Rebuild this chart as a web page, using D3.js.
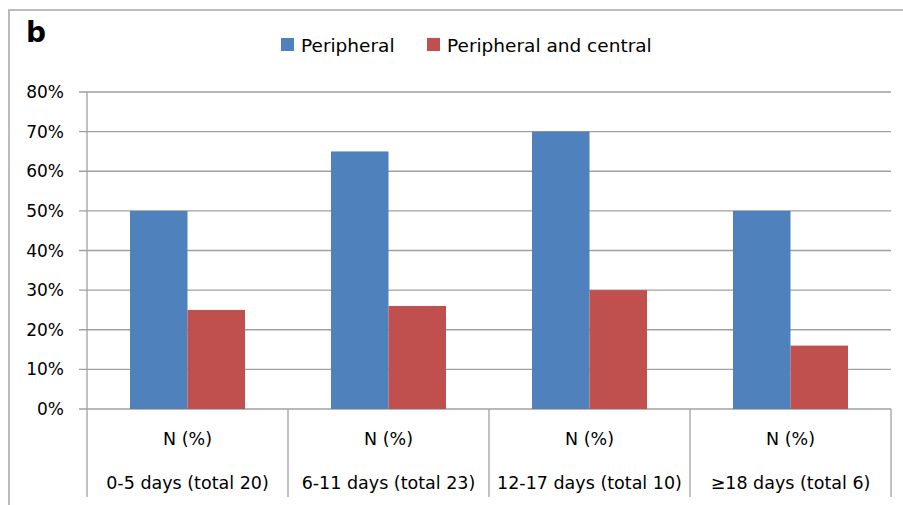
<!DOCTYPE html>
<html>
<head>
<meta charset="utf-8">
<script src="https://cdn.jsdelivr.net/npm/d3@7"></script>
<style>
  body { margin: 0; background: #fff; }
  text { font-family: "DejaVu Sans", sans-serif; fill: #000; }
</style>
</head>
<body>
<svg width="903" height="505"></svg>
<script>
var categories = ["0-5 days (total 20)", "6-11 days (total 23)", "12-17 days (total 10)", "\u226518 days (total 6)"];
var subLabel = "N (%)";
var seriesNames = ["Peripheral", "Peripheral and central"];
var peripheral = [50, 65, 70, 50];
var peripheralCentral = [25, 26, 30, 16];
var yTicks = [0, 10, 20, 30, 40, 50, 60, 70, 80];
var colors = ["#4f81bd", "#c0504d"];

var svg = d3.select("svg");
var plotLeft = 87, plotRight = 891, plotTop = 92, plotBottom = 409, tableBottom = 497;

// outer frame
svg.append("path")
  .attr("d", "M9,505V10H903")
  .attr("fill", "none").attr("stroke", "#a6a6a6").attr("stroke-width", 1.5);

svg.append("text").attr("x", 26).attr("y", 42)
  .style("font-weight", "bold").style("font-size", "28px").text("b");

var x = d3.scaleBand().domain(categories).range([plotLeft, plotRight]);
var xs = d3.scaleBand().domain(seriesNames).range([0, x.bandwidth()])
  .paddingInner(0).paddingOuter(0.748);
var y = d3.scaleLinear().domain([0, 80]).range([plotBottom, plotTop]);

// grid lines + ticks
svg.append("g").selectAll("line").data(yTicks).enter().append("line")
  .attr("x1", plotLeft - 8).attr("x2", plotRight)
  .attr("y1", function(d) { return y(d); }).attr("y2", function(d) { return y(d); })
  .attr("stroke", "#a0a0a0").attr("stroke-width", 1.3);

svg.append("g").selectAll("text").data(yTicks).enter().append("text")
  .attr("x", 64).attr("y", function(d) { return y(d); })
  .attr("dy", "0.36em").attr("text-anchor", "end")
  .style("font-size", "17px")
  .text(function(d) { return d + "%"; });

// bars
var table = categories.map(function(c, i) {
  return { cat: c, values: [peripheral[i], peripheralCentral[i]] };
});
var groups = svg.append("g").selectAll("g").data(table).enter().append("g")
  .attr("transform", function(d) { return "translate(" + x(d.cat) + ",0)"; });
groups.selectAll("rect").data(function(d) {
    return d.values.map(function(v, j) { return { s: seriesNames[j], v: v, j: j }; });
  }).enter().append("rect")
  .attr("x", function(d) { return xs(d.s); })
  .attr("width", xs.bandwidth())
  .attr("y", function(d) { return y(d.v); })
  .attr("height", function(d) { return plotBottom - y(d.v); })
  .attr("fill", function(d) { return colors[d.j]; });

// category table lines
var edges = categories.map(function(c) { return x(c); }).concat([plotRight]);
svg.append("g").selectAll("line").data(edges).enter().append("line")
  .attr("x1", function(d) { return d; }).attr("x2", function(d) { return d; })
  .attr("y1", function(d, i) { return i === 0 ? plotTop : plotBottom; })
  .attr("y2", tableBottom)
  .attr("stroke", "#a0a0a0").attr("stroke-width", 1.3);

var labels = svg.append("g").selectAll("g").data(categories).enter().append("g");
labels.append("text")
  .attr("x", function(d) { return x(d) + x.bandwidth() / 2; }).attr("y", 445)
  .attr("text-anchor", "middle").style("font-size", "17.5px").text(subLabel);
labels.append("text")
  .attr("x", function(d) { return x(d) + x.bandwidth() / 2; }).attr("y", 489)
  .attr("text-anchor", "middle").style("font-size", "17.5px").text(function(d) { return d; });

// legend
var legendX = [281, 427];
var legend = svg.append("g").selectAll("g").data(seriesNames).enter().append("g")
  .attr("transform", function(d, i) { return "translate(" + legendX[i] + ",38)"; });
legend.append("rect").attr("width", 13).attr("height", 13)
  .attr("fill", function(d, i) { return colors[i]; });
legend.append("text").attr("x", 20).attr("y", 14)
  .style("font-size", "18.5px").text(function(d) { return d; });
</script>
</body>
</html>
